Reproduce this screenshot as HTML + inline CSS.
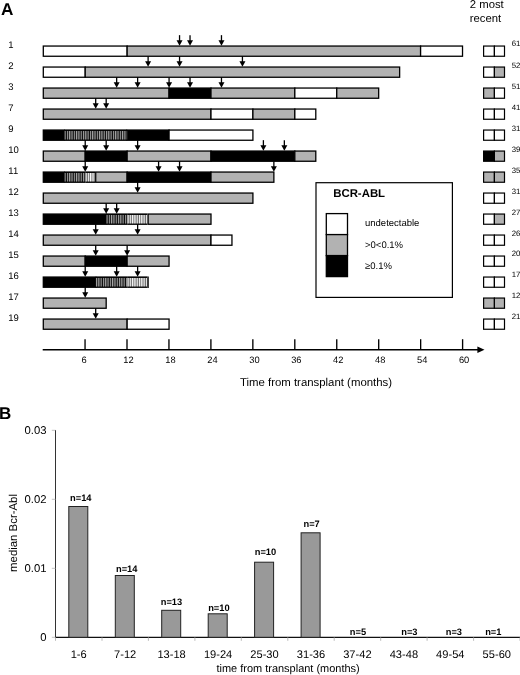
<!DOCTYPE html>
<html><head><meta charset="utf-8"><title>Figure</title>
<style>html,body{margin:0;padding:0;background:#fff}svg{display:block;filter:blur(0.4px)}text{font-family:"Liberation Sans", sans-serif;fill:#000;text-rendering:geometricPrecision}</style></head>
<body>
<svg width="520" height="675" viewBox="0 0 520 675">
<defs>
<pattern id="hd" patternUnits="userSpaceOnUse" x="0.3" y="0" width="2.3" height="4"><rect width="2.3" height="4" fill="#0c0c0c"/><rect x="0" width="1.15" height="4" fill="#a8a8a8"/></pattern>
<pattern id="hl" patternUnits="userSpaceOnUse" x="0.3" y="0" width="2.3" height="4"><rect width="2.3" height="4" fill="#6a6a6a"/><rect x="0" width="1.2" height="4" fill="#fafafa"/></pattern>
</defs>
<rect width="520" height="675" fill="#fff"/>
<text x="1.1" y="15.0" font-size="17.2" font-weight="bold">A</text>
<text x="469.8" y="8.1" font-size="11.3">2 most</text>
<text x="469.8" y="21.7" font-size="11.3">recent</text>
<g>
<text x="8.3" y="48.0" font-size="9.5">1</text>
<rect x="43.30" y="46.05" width="83.84" height="10.20" fill="#fff" stroke="#000" stroke-width="1.3"/>
<rect x="127.14" y="46.05" width="293.45" height="10.20" fill="#b2b2b2" stroke="#000" stroke-width="1.3"/>
<rect x="420.60" y="46.05" width="41.92" height="10.20" fill="#fff" stroke="#000" stroke-width="1.3"/>
<path d="M179.55 35.15V43.05" stroke="#000" stroke-width="1.3" fill="none"/><path d="M176.55 40.15h6l-3 5.6z" fill="#000"/>
<path d="M190.03 35.15V43.05" stroke="#000" stroke-width="1.3" fill="none"/><path d="M187.03 40.15h6l-3 5.6z" fill="#000"/>
<path d="M221.47 35.15V43.05" stroke="#000" stroke-width="1.3" fill="none"/><path d="M218.47 40.15h6l-3 5.6z" fill="#000"/>
<rect x="483.6" y="46.05" width="10.8" height="10.20" fill="#fff" stroke="#000" stroke-width="1.2"/><rect x="494.4" y="46.05" width="10.1" height="10.20" fill="#fff" stroke="#000" stroke-width="1.2"/>
<text x="511.7" y="46.4" font-size="7.8">61</text>
</g>
<g>
<text x="8.3" y="69.0" font-size="9.5">2</text>
<rect x="43.30" y="67.05" width="41.92" height="10.20" fill="#fff" stroke="#000" stroke-width="1.3"/>
<rect x="85.22" y="67.05" width="314.42" height="10.20" fill="#b2b2b2" stroke="#000" stroke-width="1.3"/>
<path d="M148.11 56.15V64.05" stroke="#000" stroke-width="1.3" fill="none"/><path d="M145.11 61.15h6l-3 5.6z" fill="#000"/>
<path d="M179.55 56.15V64.05" stroke="#000" stroke-width="1.3" fill="none"/><path d="M176.55 61.15h6l-3 5.6z" fill="#000"/>
<path d="M242.43 56.15V64.05" stroke="#000" stroke-width="1.3" fill="none"/><path d="M239.43 61.15h6l-3 5.6z" fill="#000"/>
<rect x="483.6" y="67.05" width="10.8" height="10.20" fill="#fff" stroke="#000" stroke-width="1.2"/><rect x="494.4" y="67.05" width="10.1" height="10.20" fill="#b2b2b2" stroke="#000" stroke-width="1.2"/>
<text x="511.7" y="67.5" font-size="7.8">52</text>
</g>
<g>
<text x="8.3" y="90.0" font-size="9.5">3</text>
<rect x="43.30" y="88.05" width="125.77" height="10.20" fill="#b2b2b2" stroke="#000" stroke-width="1.3"/>
<rect x="169.07" y="88.05" width="41.92" height="10.20" fill="#000" stroke="#000" stroke-width="1.3"/>
<rect x="210.99" y="88.05" width="83.84" height="10.20" fill="#b2b2b2" stroke="#000" stroke-width="1.3"/>
<rect x="294.83" y="88.05" width="41.92" height="10.20" fill="#fff" stroke="#000" stroke-width="1.3"/>
<rect x="336.75" y="88.05" width="41.92" height="10.20" fill="#b2b2b2" stroke="#000" stroke-width="1.3"/>
<path d="M116.66 77.15V85.05" stroke="#000" stroke-width="1.3" fill="none"/><path d="M113.66 82.15h6l-3 5.6z" fill="#000"/>
<path d="M137.62 77.15V85.05" stroke="#000" stroke-width="1.3" fill="none"/><path d="M134.62 82.15h6l-3 5.6z" fill="#000"/>
<path d="M169.07 77.15V85.05" stroke="#000" stroke-width="1.3" fill="none"/><path d="M166.07 82.15h6l-3 5.6z" fill="#000"/>
<path d="M190.03 77.15V85.05" stroke="#000" stroke-width="1.3" fill="none"/><path d="M187.03 82.15h6l-3 5.6z" fill="#000"/>
<path d="M221.47 77.15V85.05" stroke="#000" stroke-width="1.3" fill="none"/><path d="M218.47 82.15h6l-3 5.6z" fill="#000"/>
<rect x="483.6" y="88.05" width="10.8" height="10.20" fill="#b2b2b2" stroke="#000" stroke-width="1.2"/><rect x="494.4" y="88.05" width="10.1" height="10.20" fill="#fff" stroke="#000" stroke-width="1.2"/>
<text x="511.7" y="88.5" font-size="7.8">51</text>
</g>
<g>
<text x="8.3" y="111.0" font-size="9.5">7</text>
<rect x="43.30" y="109.05" width="167.69" height="10.20" fill="#b2b2b2" stroke="#000" stroke-width="1.3"/>
<rect x="210.99" y="109.05" width="41.92" height="10.20" fill="#fff" stroke="#000" stroke-width="1.3"/>
<rect x="252.91" y="109.05" width="41.92" height="10.20" fill="#b2b2b2" stroke="#000" stroke-width="1.3"/>
<rect x="294.83" y="109.05" width="20.96" height="10.20" fill="#fff" stroke="#000" stroke-width="1.3"/>
<path d="M95.70 98.15V106.05" stroke="#000" stroke-width="1.3" fill="none"/><path d="M92.70 103.15h6l-3 5.6z" fill="#000"/>
<path d="M106.18 98.15V106.05" stroke="#000" stroke-width="1.3" fill="none"/><path d="M103.18 103.15h6l-3 5.6z" fill="#000"/>
<rect x="483.6" y="109.05" width="10.8" height="10.20" fill="#fff" stroke="#000" stroke-width="1.2"/><rect x="494.4" y="109.05" width="10.1" height="10.20" fill="#fff" stroke="#000" stroke-width="1.2"/>
<text x="511.7" y="109.5" font-size="7.8">41</text>
</g>
<g>
<text x="8.3" y="132.1" font-size="9.5">9</text>
<rect x="43.30" y="130.05" width="20.96" height="10.20" fill="#000" stroke="#000" stroke-width="1.3"/>
<rect x="127.14" y="130.05" width="41.92" height="10.20" fill="#000" stroke="#000" stroke-width="1.3"/>
<rect x="169.07" y="130.05" width="83.84" height="10.20" fill="#fff" stroke="#000" stroke-width="1.3"/>
<rect x="64.26" y="129.40" width="62.88" height="11.50" fill="#000"/><g transform="translate(64.26 0)"><rect x="0" y="130.95" width="62.88" height="8.60" fill="url(#hd)"/></g>
<rect x="483.6" y="130.05" width="10.8" height="10.20" fill="#fff" stroke="#000" stroke-width="1.2"/><rect x="494.4" y="130.05" width="10.1" height="10.20" fill="#fff" stroke="#000" stroke-width="1.2"/>
<text x="511.7" y="130.5" font-size="7.8">31</text>
</g>
<g>
<text x="8.3" y="153.1" font-size="9.5">10</text>
<rect x="43.30" y="151.05" width="41.92" height="10.20" fill="#b2b2b2" stroke="#000" stroke-width="1.3"/>
<rect x="85.22" y="151.05" width="41.92" height="10.20" fill="#000" stroke="#000" stroke-width="1.3"/>
<rect x="127.14" y="151.05" width="83.84" height="10.20" fill="#b2b2b2" stroke="#000" stroke-width="1.3"/>
<rect x="210.99" y="151.05" width="83.84" height="10.20" fill="#000" stroke="#000" stroke-width="1.3"/>
<rect x="294.83" y="151.05" width="20.96" height="10.20" fill="#b2b2b2" stroke="#000" stroke-width="1.3"/>
<path d="M85.22 140.15V148.05" stroke="#000" stroke-width="1.3" fill="none"/><path d="M82.22 145.15h6l-3 5.6z" fill="#000"/>
<path d="M106.18 140.15V148.05" stroke="#000" stroke-width="1.3" fill="none"/><path d="M103.18 145.15h6l-3 5.6z" fill="#000"/>
<path d="M137.62 140.15V148.05" stroke="#000" stroke-width="1.3" fill="none"/><path d="M134.62 145.15h6l-3 5.6z" fill="#000"/>
<path d="M263.39 140.15V148.05" stroke="#000" stroke-width="1.3" fill="none"/><path d="M260.39 145.15h6l-3 5.6z" fill="#000"/>
<path d="M284.35 140.15V148.05" stroke="#000" stroke-width="1.3" fill="none"/><path d="M281.35 145.15h6l-3 5.6z" fill="#000"/>
<rect x="483.6" y="151.05" width="10.8" height="10.20" fill="#000" stroke="#000" stroke-width="1.2"/><rect x="494.4" y="151.05" width="10.1" height="10.20" fill="#b2b2b2" stroke="#000" stroke-width="1.2"/>
<text x="511.7" y="151.5" font-size="7.8">39</text>
</g>
<g>
<text x="8.3" y="174.1" font-size="9.5">11</text>
<rect x="43.30" y="172.05" width="20.96" height="10.20" fill="#000" stroke="#000" stroke-width="1.3"/>
<rect x="95.70" y="172.05" width="31.44" height="10.20" fill="#b2b2b2" stroke="#000" stroke-width="1.3"/>
<rect x="127.14" y="172.05" width="83.84" height="10.20" fill="#000" stroke="#000" stroke-width="1.3"/>
<rect x="210.99" y="172.05" width="62.88" height="10.20" fill="#b2b2b2" stroke="#000" stroke-width="1.3"/>
<rect x="64.26" y="171.40" width="20.96" height="11.50" fill="#000"/><g transform="translate(64.26 0)"><rect x="0" y="172.95" width="20.96" height="8.60" fill="url(#hd)"/></g>
<rect x="85.22" y="171.40" width="9.83" height="11.50" fill="#000"/><g transform="translate(85.22 0)"><rect x="0" y="172.95" width="9.83" height="8.60" fill="url(#hl)"/></g>
<path d="M85.22 161.15V169.05" stroke="#000" stroke-width="1.3" fill="none"/><path d="M82.22 166.15h6l-3 5.6z" fill="#000"/>
<path d="M158.59 161.15V169.05" stroke="#000" stroke-width="1.3" fill="none"/><path d="M155.59 166.15h6l-3 5.6z" fill="#000"/>
<path d="M179.55 161.15V169.05" stroke="#000" stroke-width="1.3" fill="none"/><path d="M176.55 166.15h6l-3 5.6z" fill="#000"/>
<path d="M273.87 161.15V169.05" stroke="#000" stroke-width="1.3" fill="none"/><path d="M270.87 166.15h6l-3 5.6z" fill="#000"/>
<rect x="483.6" y="172.05" width="10.8" height="10.20" fill="#b2b2b2" stroke="#000" stroke-width="1.2"/><rect x="494.4" y="172.05" width="10.1" height="10.20" fill="#b2b2b2" stroke="#000" stroke-width="1.2"/>
<text x="511.7" y="172.5" font-size="7.8">35</text>
</g>
<g>
<text x="8.3" y="195.1" font-size="9.5">12</text>
<rect x="43.30" y="193.05" width="209.61" height="10.20" fill="#b2b2b2" stroke="#000" stroke-width="1.3"/>
<path d="M137.62 182.15V190.05" stroke="#000" stroke-width="1.3" fill="none"/><path d="M134.62 187.15h6l-3 5.6z" fill="#000"/>
<rect x="483.6" y="193.05" width="10.8" height="10.20" fill="#fff" stroke="#000" stroke-width="1.2"/><rect x="494.4" y="193.05" width="10.1" height="10.20" fill="#fff" stroke="#000" stroke-width="1.2"/>
<text x="511.7" y="193.5" font-size="7.8">31</text>
</g>
<g>
<text x="8.3" y="216.1" font-size="9.5">13</text>
<rect x="43.30" y="214.05" width="62.88" height="10.20" fill="#000" stroke="#000" stroke-width="1.3"/>
<rect x="148.11" y="214.05" width="62.88" height="10.20" fill="#b2b2b2" stroke="#000" stroke-width="1.3"/>
<rect x="106.18" y="213.40" width="20.96" height="11.50" fill="#000"/><g transform="translate(106.18 0)"><rect x="0" y="214.95" width="20.96" height="8.60" fill="url(#hd)"/></g>
<rect x="127.14" y="213.40" width="20.31" height="11.50" fill="#000"/><g transform="translate(127.14 0)"><rect x="0" y="214.95" width="20.31" height="8.60" fill="url(#hl)"/></g>
<path d="M106.18 203.15V211.05" stroke="#000" stroke-width="1.3" fill="none"/><path d="M103.18 208.15h6l-3 5.6z" fill="#000"/>
<path d="M116.66 203.15V211.05" stroke="#000" stroke-width="1.3" fill="none"/><path d="M113.66 208.15h6l-3 5.6z" fill="#000"/>
<rect x="483.6" y="214.05" width="10.8" height="10.20" fill="#fff" stroke="#000" stroke-width="1.2"/><rect x="494.4" y="214.05" width="10.1" height="10.20" fill="#b2b2b2" stroke="#000" stroke-width="1.2"/>
<text x="511.7" y="214.5" font-size="7.8">27</text>
</g>
<g>
<text x="8.3" y="237.1" font-size="9.5">14</text>
<rect x="43.30" y="235.05" width="167.69" height="10.20" fill="#b2b2b2" stroke="#000" stroke-width="1.3"/>
<rect x="210.99" y="235.05" width="20.96" height="10.20" fill="#fff" stroke="#000" stroke-width="1.3"/>
<path d="M95.70 224.15V232.05" stroke="#000" stroke-width="1.3" fill="none"/><path d="M92.70 229.15h6l-3 5.6z" fill="#000"/>
<path d="M137.62 224.15V232.05" stroke="#000" stroke-width="1.3" fill="none"/><path d="M134.62 229.15h6l-3 5.6z" fill="#000"/>
<rect x="483.6" y="235.05" width="10.8" height="10.20" fill="#fff" stroke="#000" stroke-width="1.2"/><rect x="494.4" y="235.05" width="10.1" height="10.20" fill="#fff" stroke="#000" stroke-width="1.2"/>
<text x="511.7" y="235.5" font-size="7.8">26</text>
</g>
<g>
<text x="8.3" y="258.1" font-size="9.5">15</text>
<rect x="43.30" y="256.05" width="41.92" height="10.20" fill="#b2b2b2" stroke="#000" stroke-width="1.3"/>
<rect x="85.22" y="256.05" width="41.92" height="10.20" fill="#000" stroke="#000" stroke-width="1.3"/>
<rect x="127.14" y="256.05" width="41.92" height="10.20" fill="#b2b2b2" stroke="#000" stroke-width="1.3"/>
<path d="M95.70 245.15V253.05" stroke="#000" stroke-width="1.3" fill="none"/><path d="M92.70 250.15h6l-3 5.6z" fill="#000"/>
<path d="M127.14 245.15V253.05" stroke="#000" stroke-width="1.3" fill="none"/><path d="M124.14 250.15h6l-3 5.6z" fill="#000"/>
<rect x="483.6" y="256.05" width="10.8" height="10.20" fill="#fff" stroke="#000" stroke-width="1.2"/><rect x="494.4" y="256.05" width="10.1" height="10.20" fill="#fff" stroke="#000" stroke-width="1.2"/>
<text x="511.7" y="256.4" font-size="7.8">20</text>
</g>
<g>
<text x="8.3" y="279.1" font-size="9.5">16</text>
<rect x="43.30" y="277.05" width="52.40" height="10.20" fill="#000" stroke="#000" stroke-width="1.3"/>
<rect x="95.70" y="276.40" width="31.44" height="11.50" fill="#000"/><g transform="translate(95.70 0)"><rect x="0" y="277.95" width="31.44" height="8.60" fill="url(#hd)"/></g>
<rect x="127.14" y="276.40" width="20.31" height="11.50" fill="#000"/><g transform="translate(127.14 0)"><rect x="0" y="277.95" width="20.31" height="8.60" fill="url(#hl)"/></g>
<path d="M148.11 276.40V287.90" stroke="#000" stroke-width="1.3"/>
<path d="M85.22 266.15V274.05" stroke="#000" stroke-width="1.3" fill="none"/><path d="M82.22 271.15h6l-3 5.6z" fill="#000"/>
<path d="M116.66 266.15V274.05" stroke="#000" stroke-width="1.3" fill="none"/><path d="M113.66 271.15h6l-3 5.6z" fill="#000"/>
<path d="M137.62 266.15V274.05" stroke="#000" stroke-width="1.3" fill="none"/><path d="M134.62 271.15h6l-3 5.6z" fill="#000"/>
<rect x="483.6" y="277.05" width="10.8" height="10.20" fill="#fff" stroke="#000" stroke-width="1.2"/><rect x="494.4" y="277.05" width="10.1" height="10.20" fill="#fff" stroke="#000" stroke-width="1.2"/>
<text x="511.7" y="277.4" font-size="7.8">17</text>
</g>
<g>
<text x="8.3" y="300.1" font-size="9.5">17</text>
<rect x="43.30" y="298.05" width="62.88" height="10.20" fill="#b2b2b2" stroke="#000" stroke-width="1.3"/>
<path d="M85.22 287.15V295.05" stroke="#000" stroke-width="1.3" fill="none"/><path d="M82.22 292.15h6l-3 5.6z" fill="#000"/>
<rect x="483.6" y="298.05" width="10.8" height="10.20" fill="#b2b2b2" stroke="#000" stroke-width="1.2"/><rect x="494.4" y="298.05" width="10.1" height="10.20" fill="#b2b2b2" stroke="#000" stroke-width="1.2"/>
<text x="511.7" y="298.4" font-size="7.8">12</text>
</g>
<g>
<text x="8.3" y="321.1" font-size="9.5">19</text>
<rect x="43.30" y="319.05" width="83.84" height="10.20" fill="#b2b2b2" stroke="#000" stroke-width="1.3"/>
<rect x="127.14" y="319.05" width="41.92" height="10.20" fill="#fff" stroke="#000" stroke-width="1.3"/>
<path d="M95.70 308.15V316.05" stroke="#000" stroke-width="1.3" fill="none"/><path d="M92.70 313.15h6l-3 5.6z" fill="#000"/>
<rect x="483.6" y="319.05" width="10.8" height="10.20" fill="#fff" stroke="#000" stroke-width="1.2"/><rect x="494.4" y="319.05" width="10.1" height="10.20" fill="#fff" stroke="#000" stroke-width="1.2"/>
<text x="511.7" y="319.4" font-size="7.8">21</text>
</g>
<rect x="316.0" y="182.7" width="136.4" height="114.7" fill="#fff" stroke="#000" stroke-width="1.2"/>
<text x="333.2" y="196.6" font-size="11.4" font-weight="bold">BCR-ABL</text>
<rect x="326.3" y="213.6" width="21.2" height="21" fill="#fff" stroke="#000" stroke-width="1.3"/>
<rect x="326.3" y="234.6" width="21.2" height="21" fill="#b2b2b2" stroke="#000" stroke-width="1.3"/>
<rect x="326.3" y="255.6" width="21.2" height="21" fill="#000" stroke="#000" stroke-width="1.3"/>
<text x="365" y="226.2" font-size="9.5">undetectable</text>
<text x="365" y="248.1" font-size="9.5">&gt;0&lt;0.1%</text>
<text x="365" y="268.8" font-size="9.5">≥0.1%</text>
<path d="M42.7 349.8H479" stroke="#000" stroke-width="1.5" fill="none"/><path d="M477.4 346.5L484.5 349.8L477.4 353.1z" fill="#000"/>
<path d="M85.05 339.2V349.8" stroke="#000" stroke-width="1.35"/><text x="84.1" y="363.2" font-size="9.3" text-anchor="middle">6</text>
<path d="M127.00 339.2V349.8" stroke="#000" stroke-width="1.35"/><text x="128.5" y="363.2" font-size="9.3" text-anchor="middle">12</text>
<path d="M168.95 339.2V349.8" stroke="#000" stroke-width="1.35"/><text x="170.4" y="363.2" font-size="9.3" text-anchor="middle">18</text>
<path d="M210.90 339.2V349.8" stroke="#000" stroke-width="1.35"/><text x="212.4" y="363.2" font-size="9.3" text-anchor="middle">24</text>
<path d="M252.85 339.2V349.8" stroke="#000" stroke-width="1.35"/><text x="254.4" y="363.2" font-size="9.3" text-anchor="middle">30</text>
<path d="M294.80 339.2V349.8" stroke="#000" stroke-width="1.35"/><text x="296.3" y="363.2" font-size="9.3" text-anchor="middle">36</text>
<path d="M336.75 339.2V349.8" stroke="#000" stroke-width="1.35"/><text x="338.2" y="363.2" font-size="9.3" text-anchor="middle">42</text>
<path d="M378.70 339.2V349.8" stroke="#000" stroke-width="1.35"/><text x="380.2" y="363.2" font-size="9.3" text-anchor="middle">48</text>
<path d="M420.65 339.2V349.8" stroke="#000" stroke-width="1.35"/><text x="422.2" y="363.2" font-size="9.3" text-anchor="middle">54</text>
<path d="M462.60 339.2V349.8" stroke="#000" stroke-width="1.35"/><text x="464.1" y="363.2" font-size="9.3" text-anchor="middle">60</text>
<text x="316" y="385.6" font-size="11.4" text-anchor="middle">Time from transplant (months)</text>
<text x="-1.0" y="418.7" font-size="17" font-weight="bold">B</text>
<path d="M55.5 430V637.3" stroke="#333" stroke-width="1" fill="none"/>
<path d="M55.0 637.3H520" stroke="#111" stroke-width="1.35" fill="none"/>
<path d="M51.8 637.3H55.5" stroke="#b4b4b4" stroke-width="0.8"/><text x="46.5" y="641.0" font-size="11.3" text-anchor="end">0</text>
<path d="M51.8 568.3H55.5" stroke="#b4b4b4" stroke-width="0.8"/><text x="46.5" y="572.0" font-size="11.3" text-anchor="end">0.01</text>
<path d="M51.8 499.3H55.5" stroke="#b4b4b4" stroke-width="0.8"/><text x="46.5" y="503.0" font-size="11.3" text-anchor="end">0.02</text>
<path d="M51.8 430.3H55.5" stroke="#b4b4b4" stroke-width="0.8"/><text x="46.5" y="434.0" font-size="11.3" text-anchor="end">0.03</text>
<path d="M55.5 637.3V640.8" stroke="#aaa" stroke-width="0.8"/><path d="M102.0 637.3V640.8" stroke="#aaa" stroke-width="0.8"/><path d="M148.4 637.3V640.8" stroke="#aaa" stroke-width="0.8"/><path d="M194.9 637.3V640.8" stroke="#aaa" stroke-width="0.8"/><path d="M241.3 637.3V640.8" stroke="#aaa" stroke-width="0.8"/><path d="M287.8 637.3V640.8" stroke="#aaa" stroke-width="0.8"/><path d="M334.2 637.3V640.8" stroke="#aaa" stroke-width="0.8"/><path d="M380.7 637.3V640.8" stroke="#aaa" stroke-width="0.8"/><path d="M427.1 637.3V640.8" stroke="#aaa" stroke-width="0.8"/><path d="M473.6 637.3V640.8" stroke="#aaa" stroke-width="0.8"/><path d="M520.0 637.3V640.8" stroke="#aaa" stroke-width="0.8"/>
<rect x="68.8" y="506.5" width="19" height="130.8" fill="#999999" stroke="#222" stroke-width="1"/><text x="80.8" y="500.6" font-size="9.3" font-weight="bold" text-anchor="middle">n=14</text><text x="78.7" y="657.6" font-size="11.1" text-anchor="middle">1-6</text>
<rect x="115.3" y="575.5" width="19" height="61.8" fill="#999999" stroke="#222" stroke-width="1"/><text x="126.7" y="572.3" font-size="9.3" font-weight="bold" text-anchor="middle">n=14</text><text x="125.2" y="657.6" font-size="11.1" text-anchor="middle">7-12</text>
<rect x="161.7" y="610.3" width="19" height="27.0" fill="#999999" stroke="#222" stroke-width="1"/><text x="171.5" y="605.0" font-size="9.3" font-weight="bold" text-anchor="middle">n=13</text><text x="171.6" y="657.6" font-size="11.1" text-anchor="middle">13-18</text>
<rect x="208.2" y="613.8" width="19" height="23.5" fill="#999999" stroke="#222" stroke-width="1"/><text x="218.9" y="610.8" font-size="9.3" font-weight="bold" text-anchor="middle">n=10</text><text x="218.1" y="657.6" font-size="11.1" text-anchor="middle">19-24</text>
<rect x="254.6" y="562.2" width="19" height="75.1" fill="#999999" stroke="#222" stroke-width="1"/><text x="265.5" y="554.8" font-size="9.3" font-weight="bold" text-anchor="middle">n=10</text><text x="264.5" y="657.6" font-size="11.1" text-anchor="middle">25-30</text>
<rect x="301.1" y="532.8" width="19" height="104.5" fill="#999999" stroke="#222" stroke-width="1"/><text x="311.6" y="526.5" font-size="9.3" font-weight="bold" text-anchor="middle">n=7</text><text x="311.0" y="657.6" font-size="11.1" text-anchor="middle">31-36</text>
<text x="358.0" y="634.6" font-size="9.3" font-weight="bold" text-anchor="middle">n=5</text><text x="357.4" y="657.6" font-size="11.1" text-anchor="middle">37-42</text>
<text x="409.4" y="634.6" font-size="9.3" font-weight="bold" text-anchor="middle">n=3</text><text x="403.9" y="657.6" font-size="11.1" text-anchor="middle">43-48</text>
<text x="453.9" y="634.6" font-size="9.3" font-weight="bold" text-anchor="middle">n=3</text><text x="450.3" y="657.6" font-size="11.1" text-anchor="middle">49-54</text>
<text x="493.3" y="634.6" font-size="9.3" font-weight="bold" text-anchor="middle">n=1</text><text x="496.8" y="657.6" font-size="11.1" text-anchor="middle">55-60</text>
<text x="288.1" y="672.4" font-size="10.97" text-anchor="middle">time from transplant (months)</text>
<text transform="translate(16.6 533) rotate(-90)" font-size="11.4" text-anchor="middle">median Bcr-Abl</text>
</svg>
</body></html>
